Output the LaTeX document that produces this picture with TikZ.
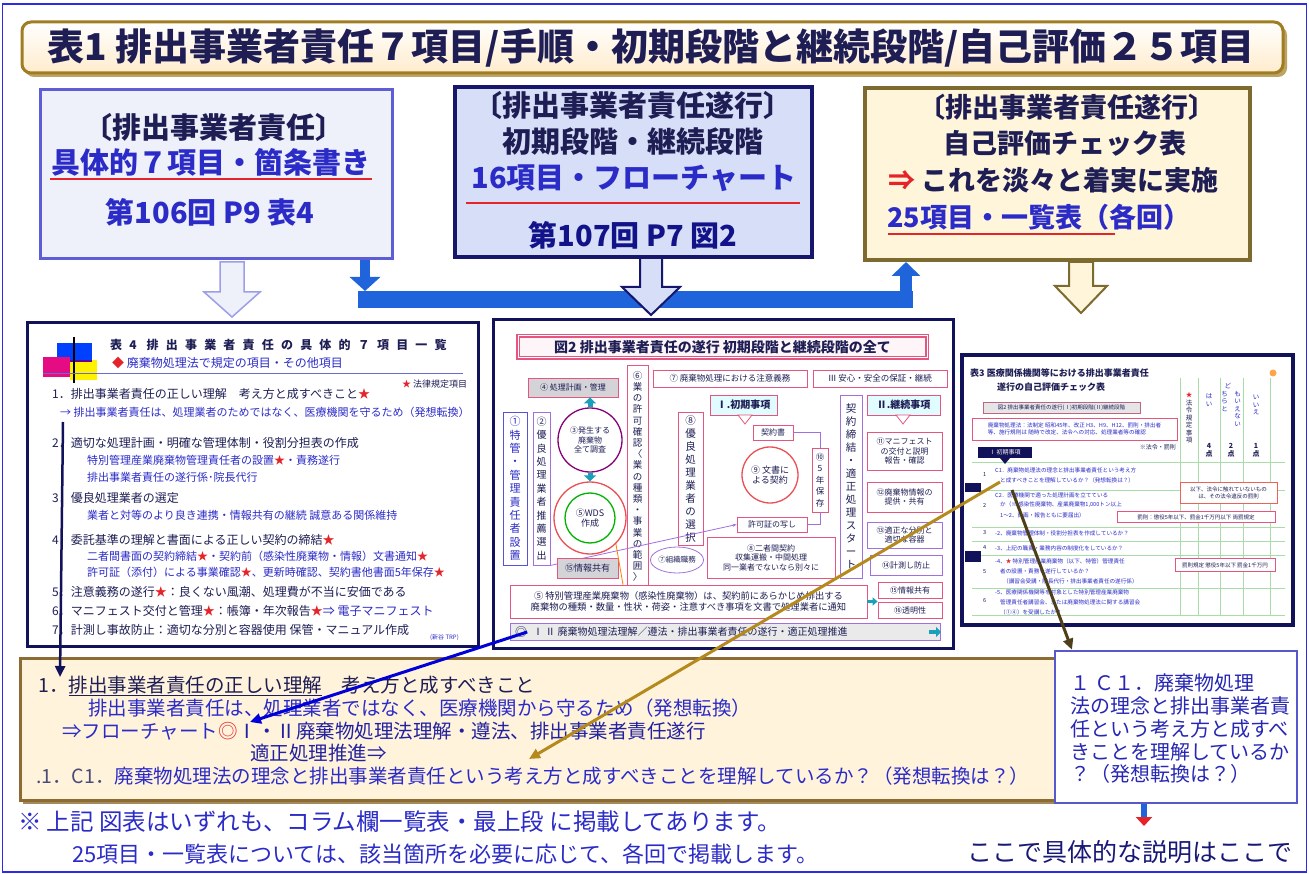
\documentclass[tikz,border=0pt]{standalone}
\usepackage{fontspec}
\usepackage{graphicx}
\setmainfont{Noto Sans CJK JP}
\usetikzlibrary{arrows.meta,shapes.geometric,calc}
\definecolor{frameblue}{HTML}{2C2CE8}
\definecolor{titlefill}{HTML}{FFF7D6}
\definecolor{titledraw}{HTML}{A07D22}
\definecolor{ink}{HTML}{1E1E55}
\definecolor{inkblue}{HTML}{2B2BC8}
\definecolor{redline}{HTML}{E5242A}
\definecolor{boxAfill}{HTML}{EEF0FA}
\definecolor{boxAdraw}{HTML}{5D5DD8}
\definecolor{boxBfill}{HTML}{D7DFF8}
\definecolor{boxBdraw}{HTML}{16166C}
\definecolor{boxCfill}{HTML}{FFF5DA}
\definecolor{boxCdraw}{HTML}{7D6A2E}
\definecolor{barblue}{HTML}{1F64DA}
\definecolor{bardark}{HTML}{0C3A9C}
\definecolor{thumbdraw}{HTML}{12125A}
\definecolor{pinkb}{HTML}{E4567F}
\definecolor{lav}{HTML}{A070E0}
\definecolor{gridg}{HTML}{A8DCA8}
\definecolor{goldline}{HTML}{B58A1C}
\definecolor{brownline}{HTML}{4E3E1A}
\definecolor{tealc}{HTML}{1AA0B8}
\definecolor{creamfill}{HTML}{FFF3DC}
\definecolor{creamdraw}{HTML}{8C6C32}
\definecolor{rbdraw}{HTML}{5858CE}
\definecolor{greyfill}{HTML}{D4D4D8}
\begin{document}
\begin{tikzpicture}[x=1pt,y=-1pt,every node/.style={inner sep=0pt},
  hb/.style={font=\bfseries\fontsize{29}{32}\selectfont},
  hc/.style={font=\bfseries\fontsize{27}{30}\selectfont, text=ink},
  li/.style={anchor=west, font=\fontsize{12}{14}\selectfont, text=ink},
  ls/.style={anchor=west, font=\fontsize{11}{13}\selectfont, text=inkblue},
  pk/.style={draw=pinkb, line width=0.8pt, fill=white, font=\fontsize{8}{9.5}\selectfont, text=ink, align=center},
  vb/.style={draw=lav, line width=0.9pt, fill=white, font=\fontsize{10.5}{12.4}\selectfont, text=ink, align=center},
  tt/.style={anchor=west, font=\fontsize{5.6}{6.5}\selectfont, text=inkblue},
  bx/.style={anchor=west, font=\fontsize{19.5}{22}\selectfont},
  conn/.style={line width=3pt, -{Triangle[width=10pt,length=11pt]}}
]
\useasboundingbox (0,0) rectangle (1309,874);
\fill[white] (0,0) rectangle (1309,874);
\draw[frameblue,line width=1.6pt] (2.5,4) rectangle (1306.5,872);

% ---------- title ----------
\fill[titledraw!70, rounded corners=9pt] (25,26) rectangle (1287,77);
\node[draw=titledraw, line width=3pt, top color=white, bottom color=titlefill!80!orange!60, rounded corners=9pt, minimum width=1261, minimum height=51] (title) at (652.5,47.5) {};
\node[font=\bfseries\fontsize{37}{40}\selectfont, text=ink] (titletxt) at (651,48) {表1\ 排出事業者責任７項目/手順・初期段階と継続段階/自己評価２５項目};

% ---------- top boxes ----------
\node[draw=boxAdraw, line width=3pt, fill=boxAfill, minimum width=352, minimum height=169] (b1) at (216.5,174.5) {};
\node[hb, text=ink] (b1a) at (214,127) {〔排出事業者責任〕};
\node[hb, text=inkblue] (b1b) at (211,162) {具体的７項目・箇条書き};
\draw[redline, line width=2.5pt] (50,179) -- (372,179);
\node[hb, text=inkblue] (b1c) at (210,212) {第106回 P9 表4};

\node[draw=boxBdraw, line width=4pt, fill=boxBfill, minimum width=357, minimum height=170] (b2) at (633.5,172) {};
\node[hb, text=ink] (b2a) at (633,105) {〔排出事業者責任遂行〕};
\node[hb, text=ink] (b2b) at (633,142) {初期段階・継続段階};
\node[hb, text=inkblue] (b2c) at (634,178) {16項目・フローチャート};
\draw[redline, line width=2.5pt] (466,203) -- (800,203);
\node[hb, text=boxBdraw!80!blue] (b2d) at (633,235) {第107回 P7 図2};

\node[draw=boxCdraw, line width=4pt, fill=boxCfill, minimum width=385, minimum height=172] (b3) at (1057.5,174) {};
\node[hc] (b3a) at (1067,107) {〔排出事業者責任遂行〕};
\node[hc] (b3b) at (1065,143) {自己評価チェック表};
\node[hc, anchor=west] (b3c) at (888,180) {{\color{redline}⇒}\ これを淡々と着実に実施};
\node[hc, anchor=west, text=inkblue] (b3d) at (887,217) {25項目・一覧表（各回）};
\draw[redline, line width=2.5pt] (888,234) -- (1115,234);

% ---------- hollow arrows ----------
\draw[boxAdraw!60, fill=boxAfill, line width=1.5pt] (220,262) -- (244,262) -- (244,292) -- (260,292) -- (232,317) -- (204,292) -- (220,292) -- cycle;
\draw[boxCdraw, fill=boxCfill, line width=2pt] (1069,262) -- (1093,262) -- (1093,286) -- (1107,286) -- (1081,313) -- (1055,286) -- (1069,286) -- cycle;

% ---------- blue connector bar ----------
\coordinate (bl) at (365,300);
\coordinate (br) at (906,300);
\draw[barblue, line width=17pt] ($(bl)+(-7,0)$) -- ($(br)+(7,0)$);
\draw[barblue, line width=10pt, -{Triangle[width=30pt,length=14pt]}] (b1.south -| bl) -- ($(bl)+(0,-9)$);
\draw[barblue, line width=12pt, -{Triangle[width=28pt,length=14pt]}] (br) -- (b3.south -| br);
\draw[boxBdraw, fill=boxBfill, line width=2pt] (640,258) -- (662,258) -- (662,287) -- (680,287) -- (651,315) -- (622,287) -- (640,287) -- cycle;

% ---------- thumbnail 1 ----------
\node[draw=thumbdraw, line width=3pt, fill=white, minimum width=451, minimum height=324] (th1) at (252.5,484.5) {};
\fill[blue!75!cyan] (57,343) rectangle (92,362);
\fill[magenta!85!purple] (43,357) rectangle (70,377);
\fill[yellow] (70,360) rectangle (97,380);
\fill[blue!60!red] (70,360) rectangle (92,362);
\draw[black, line width=1.5pt] (74,337) -- (74,383);
\draw[inkblue!70, line width=1pt] (43,374) -- (463,374);
\node[anchor=west, font=\bfseries\fontsize{12}{14}\selectfont\addfontfeature{LetterSpace=60}, text=ink] (t1title) at (110,345) {表4 排出事業者責任の具体的７項目一覧};
\node[anchor=west, font=\fontsize{12}{14}\selectfont, text=inkblue] (t1sub) at (112,363) {{\color{redline}◆}\ 廃棄物処理法で規定の項目・その他項目};
\node[anchor=west, font=\fontsize{9}{10}\selectfont, text=ink] (t1star) at (402,384) {{\color{redline}★}\ 法律規定項目};
\node[li] (t1i1) at (52,394) {1．排出事業者責任の正しい理解　考え方と成すべきこと{\color{redline}★}};
\node[ls] (t1i1b) at (60,412) {→ 排出事業者責任は、処理業者のためではなく、医療機関を守るため（発想転換）};
\node[li] (t1i2) at (52,443) {2．適切な処理計画・明確な管理体制・役割分担表の作成};
\node[ls] (t1i2b) at (87,460) {特別管理産業廃棄物管理責任者の設置{\color{redline}★}・責務遂行};
\node[ls] (t1i2c) at (87,477) {排出事業者責任の遂行係･院長代行};
\node[li] (t1i3) at (52,498) {3．優良処理業者の選定};
\node[ls] (t1i3b) at (87,515) {業者と対等のより良き連携・情報共有の継続 誠意ある関係維持};
\node[li] (t1i4) at (52,540) {4．委託基準の理解と書面による正しい契約の締結{\color{redline}★}};
\node[ls] (t1i4b) at (87,556) {二者間書面の契約締結{\color{redline}★}・契約前（感染性廃棄物・情報）文書通知{\color{redline}★}};
\node[ls] (t1i4c) at (87,572) {許可証（添付）による事業確認{\color{redline}★}、更新時確認、契約書他書面5年保存{\color{redline}★}};
\node[li] (t1i5) at (52,592) {5．注意義務の遂行{\color{redline}★}：良くない風潮、処理費が不当に安価である};
\node[li] (t1i6) at (52,611) {6．マニフェスト交付と管理{\color{redline}★}：帳簿・年次報告{\color{redline}★}{\color{inkblue}⇒ 電子マニフェスト}};
\node[li] (t1i7) at (52,630) {7．計測し事故防止：適切な分別と容器使用 保管・マニュアル作成};
\node[anchor=west, font=\fontsize{6}{7}\selectfont, text=inkblue] (t1src) at (430,638) {(新谷 TRP)};
\coordinate (v1s) at (63,422);
\coordinate (v1e) at (60,677);

% ---------- thumbnail 2 ----------
\node[draw=thumbdraw, line width=3pt, fill=white, minimum width=460, minimum height=328] (th2) at (723,484) {};
\node[draw=pinkb, line width=1.2pt, fill=pinkb!6, double=white, double distance=1pt, minimum width=409, minimum height=22, font=\bfseries\fontsize{14}{16}\selectfont, text=ink] (f2title) at (722.5,347) {図2\ 排出事業者責任の遂行\ 初期段階と継続段階の全て};
\node[pk, fill=greyfill, minimum width=90, minimum height=19] (n4) at (573,387.5) {④ 処理計画・管理};
\node[vb, draw=pinkb, minimum width=21, minimum height=223, font=\fontsize{9.5}{11.2}\selectfont] (n6) at (637.5,476.5) {⑥\\業\\の\\許\\可\\確\\認\\〈\\業\\の\\種\\類\\・\\事\\業\\の\\範\\囲\\〉};
\node[pk, minimum width=154, minimum height=17, font=\fontsize{8.5}{10}\selectfont] (n7) at (730,378.5) {⑦ 廃棄物処理における注意義務};
\node[pk, minimum width=134, minimum height=17, font=\fontsize{8.5}{10}\selectfont] (n3a) at (880,378.5) {Ⅲ 安心・安全の保証・継続};
\node[pk, fill=blue!10!cyan!12, minimum width=67, minimum height=20, font=\bfseries\fontsize{10}{11}\selectfont] (nI) at (743.5,405) {Ⅰ.初期事項};
\node[pk, fill=blue!10!cyan!12, minimum width=73, minimum height=20, font=\bfseries\fontsize{10}{11}\selectfont] (nII) at (903.5,405) {Ⅱ.継続事項};
\draw[pinkb, fill=white, line width=0.8pt] (738,415) -- (752,415) -- (745,424) -- cycle;
\draw[pinkb, fill=white, line width=0.8pt] (896,415) -- (910,415) -- (903,424) -- cycle;
\node[vb, minimum width=22, minimum height=183, font=\fontsize{10.5}{13}\selectfont] (nK) at (851,486.5) {契\\約\\締\\結\\・\\適\\正\\処\\理\\ス\\タ\\ー\\ト};
\node[vb, draw=inkblue!80, minimum width=24, minimum height=153, font=\fontsize{11}{13.4}\selectfont, text=inkblue] (n1) at (515,488.5) {①\\特\\管\\・\\管\\理\\責\\任\\者\\設\\置};
\node[vb, minimum width=17, minimum height=153, font=\fontsize{10}{13.4}\selectfont] (n2) at (541.5,488.5) {②\\優\\良\\処\\理\\業\\者\\推\\薦\\選\\出};
\node[circle, draw=purple!70!blue, line width=1.3pt, minimum size=64, font=\fontsize{8}{9.5}\selectfont, align=center, text=ink] (c3) at (590,440) {③発生する\\廃棄物\\全て調査};
\node[circle, draw=redline!80, line width=1.3pt, minimum size=72] (c5) at (590,518) {};
\node[circle, draw=green!70!black, line width=1.3pt, minimum size=50, font=\fontsize{9}{10.5}\selectfont, align=center, text=ink] (c5in) at (590,518) {⑤WDS\\作成};
\draw[tealc, line width=5pt, -{Triangle[width=12pt,length=6pt]}] (c3.north) -- (n4.south -| c3.north);
\draw[tealc, line width=5pt, -{Triangle[width=12pt,length=6pt]}] (c3.south) -- (c5.north);
\node[vb, draw=pinkb, minimum width=25, minimum height=133, font=\fontsize{10.5}{13}\selectfont] (n8v) at (690.5,478.5) {⑧\\優\\良\\処\\理\\業\\者\\の\\選\\択};
\node[pk, minimum width=40, minimum height=15] (nKy) at (773,432.5) {契約書};
\node[circle, draw=redline!80, line width=1.3pt, minimum size=56, font=\fontsize{9}{10.5}\selectfont, align=center, text=ink] (c9) at (770,475) {⑨ 文書に\\よる契約};
\node[pk, minimum width=16, minimum height=64, font=\fontsize{8.5}{11.5}\selectfont] (n10) at (820,480) {⑩\\5\\年\\保\\存};
\node[pk, minimum width=70, minimum height=15] (nKk) at (772,524.5) {許可証の写し};
\draw[lav, line width=0.8pt] (nKy.east) -| (n10.north);
\draw[lav, line width=0.8pt] (n10.south) |- (nKk.east);
\draw[lav, line width=0.8pt, -{Stealth[length=4pt]}] (n2.south east) -- (nKk.west);
\node[pk, minimum width=75, minimum height=38] (n11) at (904.5,451) {⑪マニフェスト\\の交付と説明\\報告・確認};
\node[pk, minimum width=75, minimum height=30] (n12) at (904.5,497) {⑫廃棄物情報の\\提供・共有};
\node[pk, draw=lav, minimum width=75, minimum height=26] (n13) at (904.5,535) {⑬適正な分別と\\適切な容器};
\node[pk, draw=lav, minimum width=72, minimum height=20] (n14) at (906,565) {⑭計測し防止};
\node[pk, minimum width=64, minimum height=16] (n15) at (910,590) {⑮情報共有};
\node[pk, minimum width=64, minimum height=16] (n16) at (910,610) {⑯透明性};
\node[pk, fill=greyfill, minimum width=61, minimum height=20, font=\fontsize{9}{10}\selectfont] (n5s) at (587.5,568) {⑮情報共有};
\node[ellipse, draw=lav, line width=0.8pt, minimum width=52, minimum height=26, font=\fontsize{7.5}{9}\selectfont, text=ink] (e7) at (677,560) {⑦組織職務};
\node[pk, minimum width=128, minimum height=41] (n8) at (771,557.5) {⑧二者間契約\\収集運搬・中間処理\\同一業者でないなら別々に};
\node[pk, minimum width=357, minimum height=33, font=\fontsize{9.3}{11}\selectfont] (nLong) at (688.5,601.5) {⑤ 特別管理産業廃棄物（感染性廃棄物）は、契約前にあらかじめ排出する\\廃棄物の種類・数量・性状・荷姿・注意すべき事項を文書で処理業者に通知};
\draw[tealc, line width=3pt, -{Triangle[width=8pt,length=5pt]}] (nLong.east) -- (n15.west |- nLong.east);
\draw[orange, line width=0.8pt] (c5.south east) -- (nLong.north -| 623,0);
\node[draw=lav, line width=0.8pt, fill=greyfill!50, minimum width=430, minimum height=17] (nStrip) at (725,631.5) {};
\node[font=\fontsize{12}{12}\selectfont, text=ink] (th2circ) at (521,632) {◎};
\node[anchor=west, font=\fontsize{10}{11}\selectfont, text=ink] (nStripTxt) at (533,632) {Ⅰ Ⅱ 廃棄物処理法理解／遵法・排出事業者責任の遂行・適正処理推進};
\draw[tealc, line width=4pt, -{Triangle[width=10pt,length=5pt]}] (929,632) -- (941,632);

% ---------- thumbnail 3 ----------
\node[draw=thumbdraw, line width=4pt, fill=white, minimum width=331, minimum height=270] (th3) at (1127.5,490) {};
\foreach \gx in {1180,1198,1220,1243,1270} \draw[gridg, line width=0.6pt] (\gx,378) -- (\gx,615);
\foreach \gy in {462,490,527,541,555,588,615} \draw[gridg, line width=0.6pt] (972,\gy) -- (1285,\gy);
\node[anchor=west, font=\bfseries\fontsize{9}{10}\selectfont, text=ink] (t3t1) at (970,373) {表3 医療関係機関等における排出事業者責任};
\node[anchor=west, font=\bfseries\fontsize{9}{10}\selectfont, text=ink] (t3t2) at (997,387) {遂行の自己評価チェック表};
\fill[orange!70] (1273,373) circle (3.5);
\node[font=\fontsize{6.5}{7.5}\selectfont, text=ink, align=center] (h1) at (1189,418) {{\color{redline}★}\\法\\令\\規\\定\\事\\項};
\node[font=\fontsize{6.5}{7.5}\selectfont, text=inkblue, align=center] (h2) at (1209,400) {は\\い};
\node[font=\bfseries\fontsize{7}{8}\selectfont, text=ink, align=center] (h2p) at (1209,450) {4\\点};
\node[font=\fontsize{6.5}{7.5}\selectfont, text=inkblue, align=center] (h3) at (1231,405) {ど　\\ち　も\\ら　い\\と　え\\　　な\\　　い};
\node[font=\bfseries\fontsize{7}{8}\selectfont, text=ink, align=center] (h3p) at (1231,450) {2\\点};
\node[font=\fontsize{6.5}{7.5}\selectfont, text=inkblue, align=center] (h4) at (1256,405) {い\\い\\え};
\node[font=\bfseries\fontsize{7}{8}\selectfont, text=ink, align=center] (h4p) at (1256,450) {1\\点};
\node[draw=pinkb!60!gray, fill=greyfill!60, line width=0.6pt, minimum width=157, minimum height=11, font=\fontsize{5.5}{6}\selectfont, text=ink] (t3g) at (1061.5,407.5) {図2 排出事業者責任の遂行(Ⅰ)初期段階(Ⅱ)継続段階};
\node[draw=pinkb, line width=0.8pt, fill=white, minimum width=205, minimum height=22, font=\fontsize{5.6}{7.5}\selectfont, text=inkblue, align=left] (t3p) at (1074.5,429) {廃棄物処理法：法制定 昭和45年、改正 H3、H9、H12、罰則・排出者\\等、施行規則は 随時で改定、法令への対応、処理業者等の確認};
\node[font=\fontsize{6}{7}\selectfont, text=ink, anchor=east] (t3law) at (1176,447) {※法令・罰則};
\node[fill=thumbdraw, minimum width=54, minimum height=11, font=\fontsize{6}{7}\selectfont, text=white] (t3I) at (1005,452.5) {Ⅰ 初期事項};
\fill[thumbdraw] (1000,458) -- (1010,458) -- (1005,464) -- cycle;
\node[tt, text=ink] (r1n) at (983,475) {1};
\node[tt] (r1a) at (995,470) {C1．廃棄物処理法の理念と排出事業者責任という考え方};
\node[tt] (r1b) at (1000,480) {と成すべきことを理解しているか？（発想転換は？）};
\fill[thumbdraw] (965,483) rectangle (981,492);
\node[tt, text=ink] (r2n) at (983,505) {2};
\node[tt] (r2a) at (995,495) {C2．医療機関で適った処理計画を立てている};
\node[tt] (r2b) at (1000,505) {か（※ 感染性廃棄物、産業廃棄物1,000トン以上};
\node[tt] (r2c) at (1000,515) {1～2、計画・報告ともに要届出）};
\node[draw=pinkb!70!orange, line width=0.7pt, fill=white, minimum width=97, minimum height=21, font=\fontsize{5.5}{7}\selectfont, text=ink, align=center] (t3q) at (1228.5,492.5) {以下、法令に触れていないもの\\は、その法令違反の罰則};
\node[draw=pinkb, line width=0.7pt, fill=white, minimum width=158, minimum height=11, font=\fontsize{5.5}{6}\selectfont, text=ink] (t3r) at (1196,517) {罰則：懲役5年以下、罰金1千万円以下 両罰規定};
\node[tt, text=ink] (r3n) at (983,533) {3};
\node[tt] (r3a) at (995,533) {-2、廃棄物管理体制・役割分担表を作成しているか？};
\node[tt, text=ink] (r4n) at (983,548) {4};
\node[tt] (r4a) at (995,548) {-3、上記の職責・業務内容の制度化をしているか？};
\fill[thumbdraw] (965,551) rectangle (981,562);
\node[tt, text=ink] (r5n) at (983,572) {5};
\node[tt] (r5a) at (995,561) {-4、{\color{redline}★} 特別管理産業廃棄物（以下、特管）管理責任};
\node[tt] (r5b) at (1000,571) {者の設置・責務を遂行しているか？};
\node[tt] (r5c) at (1003,581) {（講習会受講・院長代行・排出事業者責任の遂行係）};
\node[draw=pinkb, line width=0.7pt, fill=white, minimum width=100, minimum height=13, font=\fontsize{5.5}{6}\selectfont, text=ink] (t3s) at (1225,565) {罰則規定 懲役5年以下 罰金1千万円};
\node[tt, text=ink] (r6n) at (983,601) {6};
\node[tt] (r6a) at (995,592) {-5、医療関係機関等を対象とした特別管理産業廃棄物};
\node[tt] (r6b) at (1000,602) {管理責任者講習会、または廃棄物処理法に関する講習会};
\node[tt] (r6c) at (1000,612) {（①④）を受講したか？};

% ---------- bottom box ----------
\fill[creamdraw!80] (23,662) rectangle (1058,804);
\node[draw=creamdraw, line width=3pt, fill=creamfill, minimum width=1035, minimum height=142] (bb) at (537.5,729) {};
\node[bx, text=ink] (bt1) at (38,686) {1．\underline{排出事業者責任の正しい理解}　考え方と成すべきこと};
\node[bx, text=inkblue] (bt2) at (88,708) {排出事業者責任は、処理業者ではなく、医療機関から守るため（発想転換）};
\node[bx, text=inkblue!80!black] (bt3) at (62,731) {{\color{inkblue}⇒フローチャート}{\color{redline}◎}Ⅰ・Ⅱ廃棄物処理法理解・遵法、排出事業者責任遂行};
\node[bx, text=inkblue!80!black] (bt4) at (250,753) {適正処理推進⇒};
\node[bx, text=inkblue] (bt5) at (36,776) {{\color{ink!80}.1．C1．}廃棄物処理法の理念と排出事業者責任という考え方と成すべきことを理解しているか？（発想転換は？）};

% ---------- right box ----------
\node[draw=rbdraw, line width=2.5pt, fill=white, minimum width=242, minimum height=152] (rb) at (1176,727) {};
\node[bx, font=\fontsize{20}{22}\selectfont, text=inkblue!90!black] (rt1) at (1070,683) {１ Ｃ１．廃棄物処理};
\node[bx, font=\fontsize{20}{22}\selectfont, text=inkblue!90!black] (rt2) at (1070,706) {法の理念と排出事業者責};
\node[bx, font=\fontsize{20}{22}\selectfont, text=inkblue!90!black] (rt3) at (1070,729) {任という考え方と成すべ};
\node[bx, font=\fontsize{20}{22}\selectfont, text=inkblue!90!black] (rt4) at (1070,752) {きことを理解しているか};
\node[bx, font=\fontsize{20}{22}\selectfont, text=inkblue!90!black] (rt5) at (1070,774) {？（発想転換は？）};
\coordinate (dn) at (1144,826);
\draw[barblue, line width=6pt, -{Triangle[width=16pt,length=9pt,color=redline]}] (rb.south -| dn) -- (dn);

% ---------- notes ----------
\node[anchor=west, font=\fontsize{23.5}{26}\selectfont, text=inkblue] (note1) at (18,822) {※\ 上記 図表はいずれも、コラム欄一覧表・最上段 に掲載してあります。};
\node[anchor=west, font=\fontsize{22}{26}\selectfont, text=inkblue] (note2) at (72,854) {25項目・一覧表については、該当箇所を必要に応じて、各回で掲載します。};
\node[anchor=west, font=\fontsize{25}{27}\selectfont, text=ink!80!blue] (note3) at (967,852) {ここで具体的な説明はここで};

% ---------- connectors ----------
\draw[thumbdraw, conn, line width=2.5pt] (v1s) -- (v1e);
\coordinate (blueEnd) at (250,722);
\draw[conn, draw=blue!85!black, fill=blue!85!black] (th2circ.east) -- (blueEnd);
\coordinate (goldS) at (1000,482);
\coordinate (goldE) at (529,759);
\draw[conn, draw=goldline, fill=goldline] (goldS) -- (goldE);
\coordinate (brS) at (1012,490);
\draw[conn, draw=brownline, fill=brownline] (brS) -- (rb.north west -| 1072,0);
\end{tikzpicture}
\end{document}
